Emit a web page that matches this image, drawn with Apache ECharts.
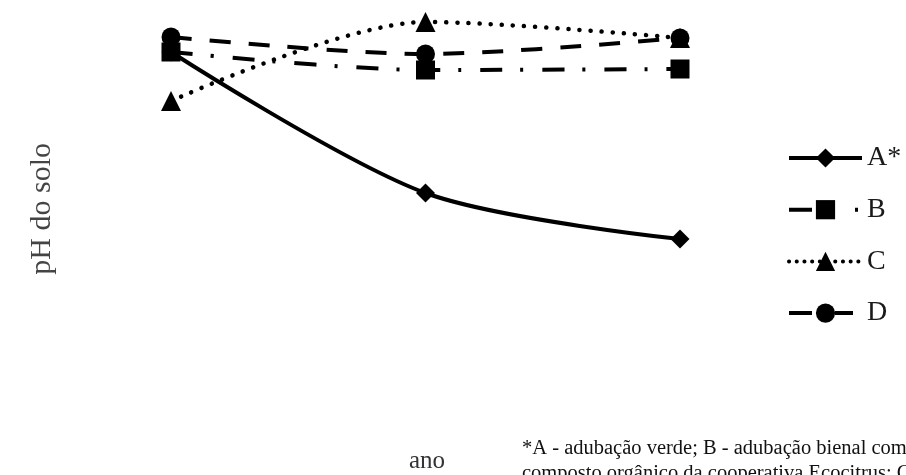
<!DOCTYPE html>
<html><head><meta charset="utf-8">
<script src="https://cdn.jsdelivr.net/npm/echarts@6/dist/echarts.min.js"></script>
<style>html,body{margin:0;padding:0;background:#fff}#c{width:906px;height:475px}</style>
</head><body><div id="c"></div>
<script>
const categories = ['1', '2', '3'];
const seriesA = [6.48, 5.07, 4.61];
const seriesB = [6.48, 6.30, 6.31];
const seriesC = [5.99, 6.78, 6.62];
const seriesD = [6.63, 6.46, 6.62];
const legendNames = ['A*', 'B', 'C', 'D'];
const yLabel = 'pH do solo';
const xLabel = 'ano';
const note1 = '*A - adubação verde; B - adubação bienal com';
const note2 = 'composto orgânico da cooperativa Ecocitrus; C - adubação';

const chart = echarts.init(document.getElementById('c'));
const serif = '"Liberation Serif", "DejaVu Serif", serif';
function mk(name, data, symbol, size, lineType, cap, width) {
  return {
    name, type: 'line', data, smooth: 0.3, symbol, symbolSize: size,
    itemStyle: { color: '#000' },
    lineStyle: { color: '#000', width: width || 4, type: lineType, cap: cap || 'butt' },
    emphasis: { disabled: true }
  };
}
const legendDots = [];
for (let i = 0; i < 9; i++) legendDots.push(0.1, 7.6);
legendDots.push(0.1, 200);
chart.setOption({
  animation: false,
  grid: { left: 171, right: 226, top: 0, height: 300 },
  xAxis: { type: 'category', data: categories, boundaryGap: false, show: false },
  yAxis: { type: 'value', min: 4, max: 7, show: false },
  legend: {
    orient: 'vertical', left: 787, top: 144, padding: 0,
    itemWidth: 73, itemHeight: 24, itemGap: 23.7,
    data: [
      { name: legendNames[0], lineStyle: { width: 4, type: 'solid' } },
      { name: legendNames[1], lineStyle: { width: 4, type: [23, 43, 3, 200] } },
      { name: legendNames[2], lineStyle: { width: 4, type: legendDots, cap: 'round' } },
      { name: legendNames[3], lineStyle: { width: 4, type: [23, 23, 18, 200] } }
    ],
    textStyle: { fontFamily: serif, fontSize: 28, lineHeight: 24, color: '#1a1a1a' }
  },
  series: [
    mk(legendNames[0], seriesA, 'diamond', 19, 'solid'),
    mk(legendNames[1], seriesB, 'rect', 19, [22, 18, 3, 19]),
    mk(legendNames[2], seriesC, 'triangle', 20, [0.1, 11], 'round', 4.5),
    mk(legendNames[3], seriesD, 'circle', 19, [21, 18])
  ],
  graphic: [
    { type: 'text', left: 27, top: 143, rotation: Math.PI / 2,
      style: { text: yLabel, font: '30px ' + serif, fill: '#444' } },
    { type: 'text', left: 409, top: 449,
      style: { text: xLabel, font: '25px ' + serif, fill: '#333' } },
    { type: 'text', left: 522, top: 436,
      style: { text: note1 + '\n' + note2, font: '20.5px ' + serif, fill: '#111', lineHeight: 25 } }
  ]
});
</script></body></html>
